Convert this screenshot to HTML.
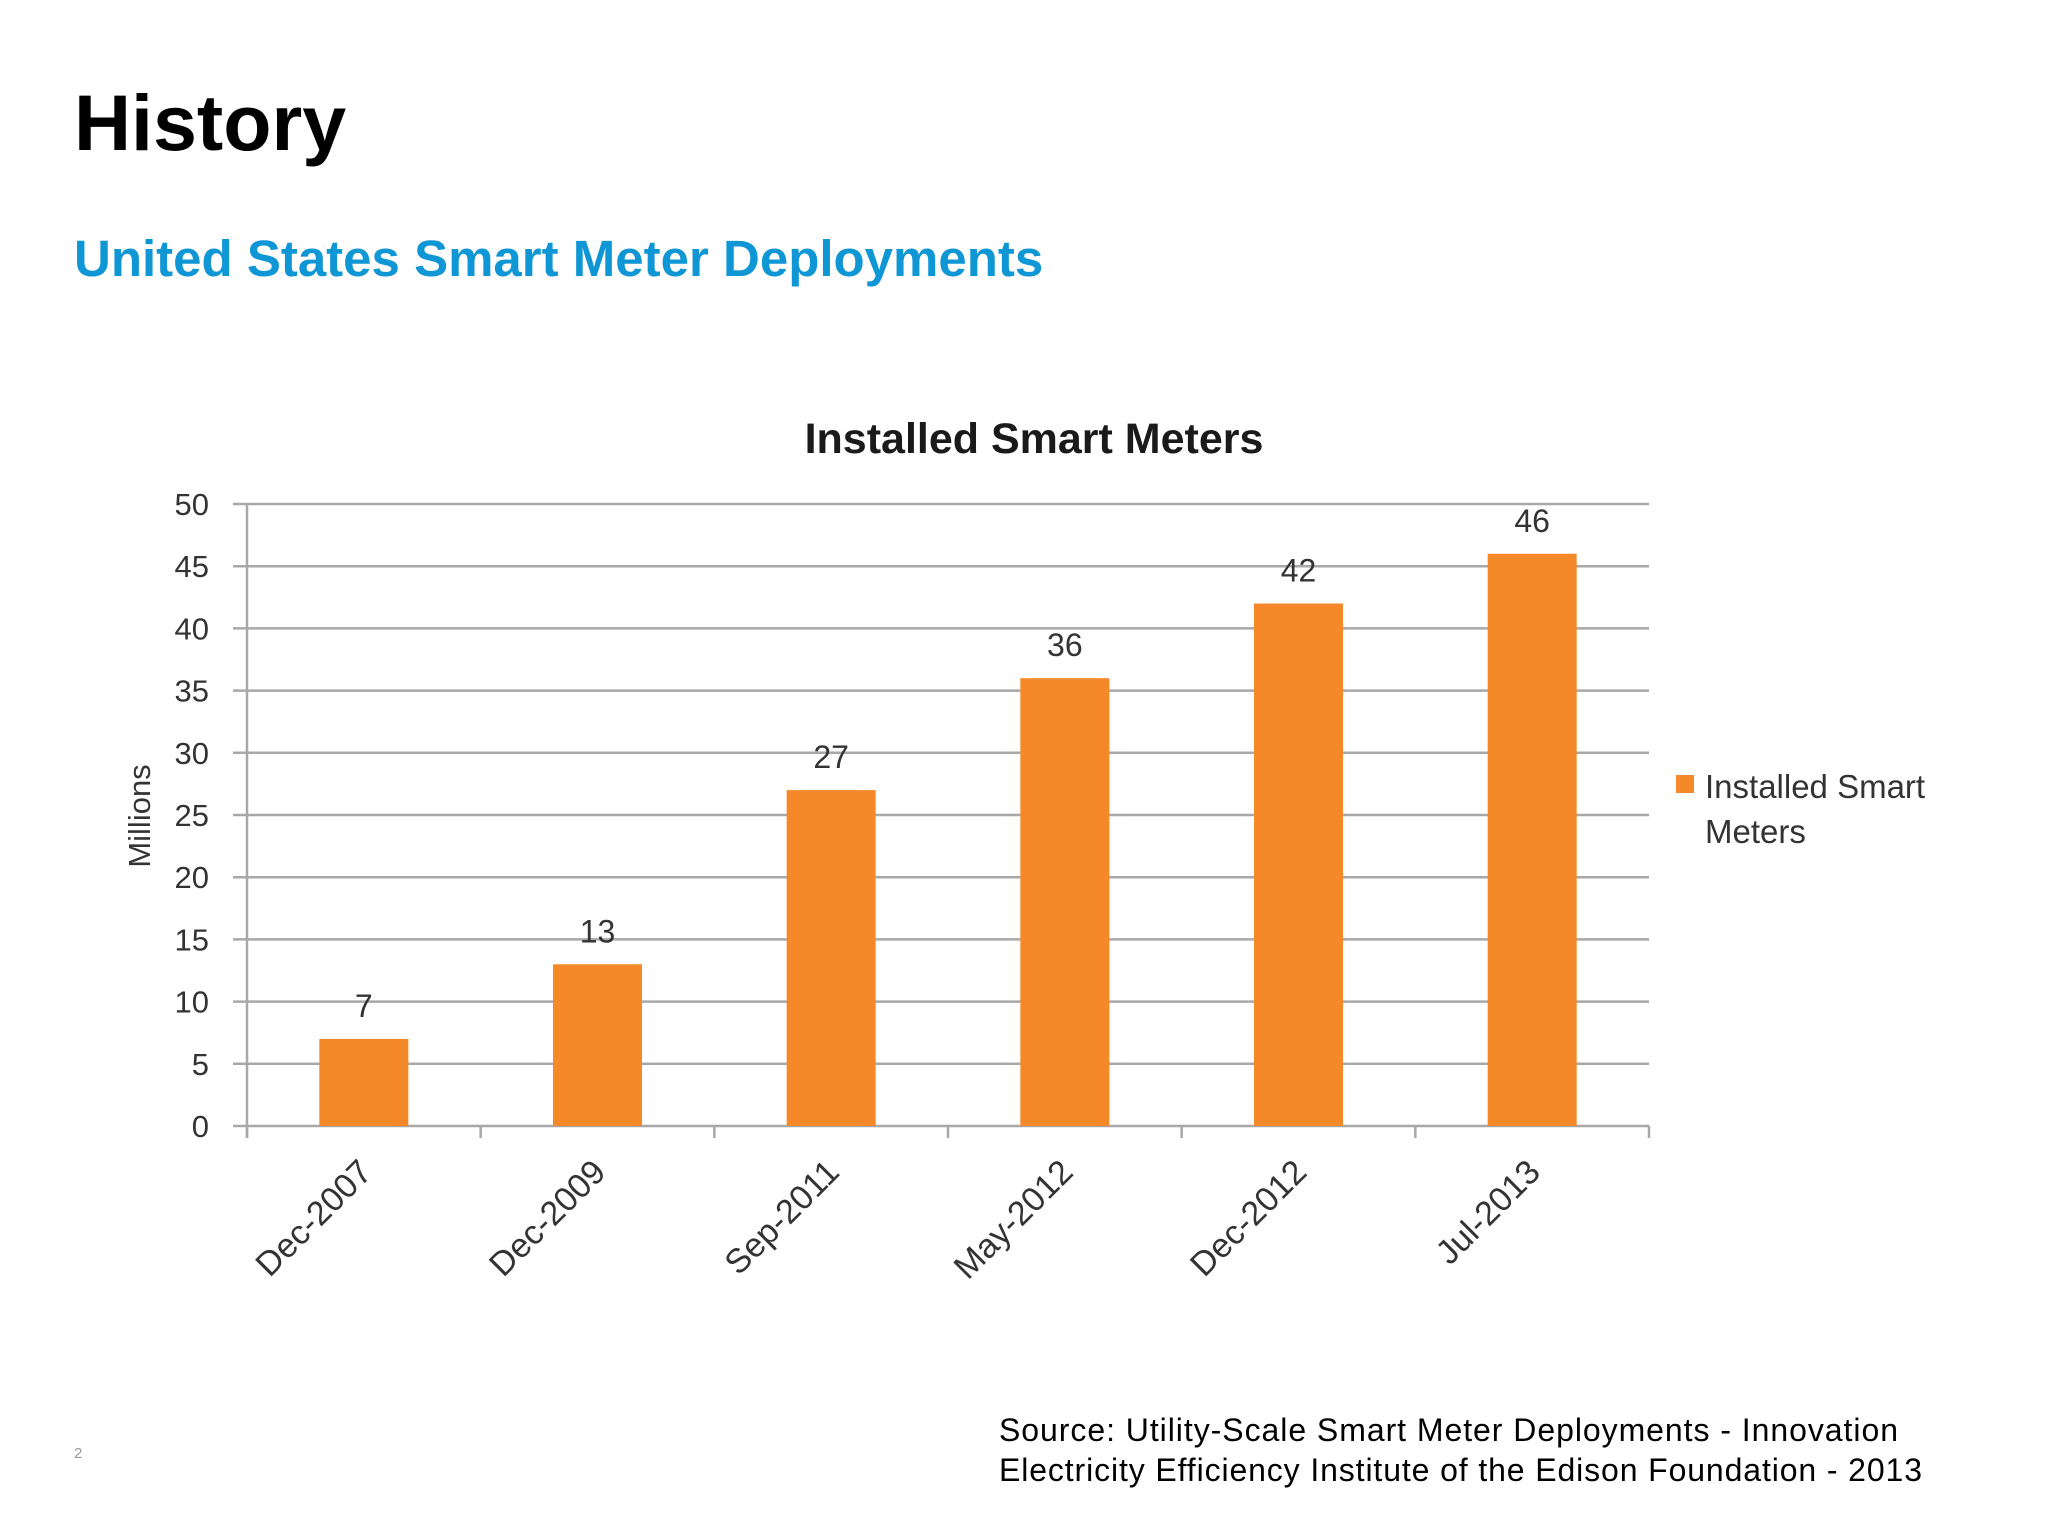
<!DOCTYPE html>
<html><head><meta charset="utf-8"><style>
html,body{margin:0;padding:0;background:#fff;}
svg{display:block;font-family:"Liberation Sans",sans-serif;}
</style></head><body>
<svg id="chart" width="2048" height="1536" viewBox="0 0 2048 1536" xmlns="http://www.w3.org/2000/svg">
<text x="74" y="150" font-size="79" font-weight="bold" fill="#000">History</text>
<text x="74" y="276" font-size="51" font-weight="bold" fill="#0f96d4">United States Smart Meter Deployments</text>
<text x="1034" y="453" font-size="43" font-weight="bold" fill="#1a1a1a" text-anchor="middle">Installed Smart Meters</text>
<text transform="translate(150,816) rotate(-90)" font-size="31" fill="#333" text-anchor="middle">Millions</text>
<g id="grid"></g>
<g id="bars"></g>
<rect x="1676" y="775" width="18" height="18" fill="#f5892a"/>
<text x="1705" y="798" font-size="33" fill="#333">Installed Smart</text>
<text x="1705" y="843" font-size="33" fill="#333">Meters</text>
<text x="999" y="1441" font-size="32" fill="#000" textLength="899">Source: Utility-Scale Smart Meter Deployments - Innovation</text>
<text x="999" y="1481" font-size="32" fill="#000" textLength="923">Electricity Efficiency Institute of the Edison Foundation - 2013</text>
<text x="74" y="1458" font-size="15" fill="#999">2</text>
</svg>
<script>
const categories = ["Dec-2007","Dec-2009","Sep-2011","May-2012","Dec-2012","Jul-2013"];
const values = [7,13,27,36,42,46];
const yTicks = [0,5,10,15,20,25,30,35,40,45,50];
const NS="http://www.w3.org/2000/svg";
const x0=247,x1=1649,y0=1126,y1=504,yMax=50;
const band=(x1-x0)/categories.length, barW=89;
function yScale(v){return y0-(v/yMax)*(y0-y1);}
function xCenter(i){return x0+band*(i+0.5);}
function mk(tag,attrs,parent){const e=document.createElementNS(NS,tag);for(const k in attrs)e.setAttribute(k,attrs[k]);parent.appendChild(e);return e;}
const grid=document.getElementById('grid'), bars=document.getElementById('bars');
yTicks.forEach(t=>{
  const y=yScale(t);
  const l=mk('line',{x1:x0-14,x2:x1,y1:y,y2:y,stroke:'#a8a8a8','stroke-width':2.5},grid);
  
  
  const tx=mk('text',{x:209,y:y+11,'font-size':31,fill:'#333','text-anchor':'end'},grid);
  tx.textContent=t;
  
  
});
const ax=mk('line',{x1:x0,x2:x0,y1:y1,y2:y0+12,stroke:'#a8a8a8','stroke-width':2.5},grid);


for(let i=0;i<=categories.length;i++){
  const tk=mk('line',{x1:x0+band*i,x2:x0+band*i,y1:y0,y2:y0+12,stroke:'#a8a8a8','stroke-width':2.5},grid);
  
  
}
categories.forEach((c,i)=>{
  const cx=xCenter(i), y=yScale(values[i]);
  const r=mk('rect',{x:cx-barW/2,y:y,width:barW,height:y0-y,fill:'#f5892a'},bars);
  
  
  const v=mk('text',{x:cx,y:y-22,'font-size':32,fill:'#333','text-anchor':'middle'},bars);
  v.textContent=values[i];
  
  
  const lx=cx+10, ly=y0+48;
  const lb=mk('text',{x:lx,y:ly,'font-size':34,fill:'#333','text-anchor':'end',transform:'rotate(-45 '+lx+' '+ly+')'},bars);
  lb.textContent=c;
  
  
});
</script>
</body></html>
